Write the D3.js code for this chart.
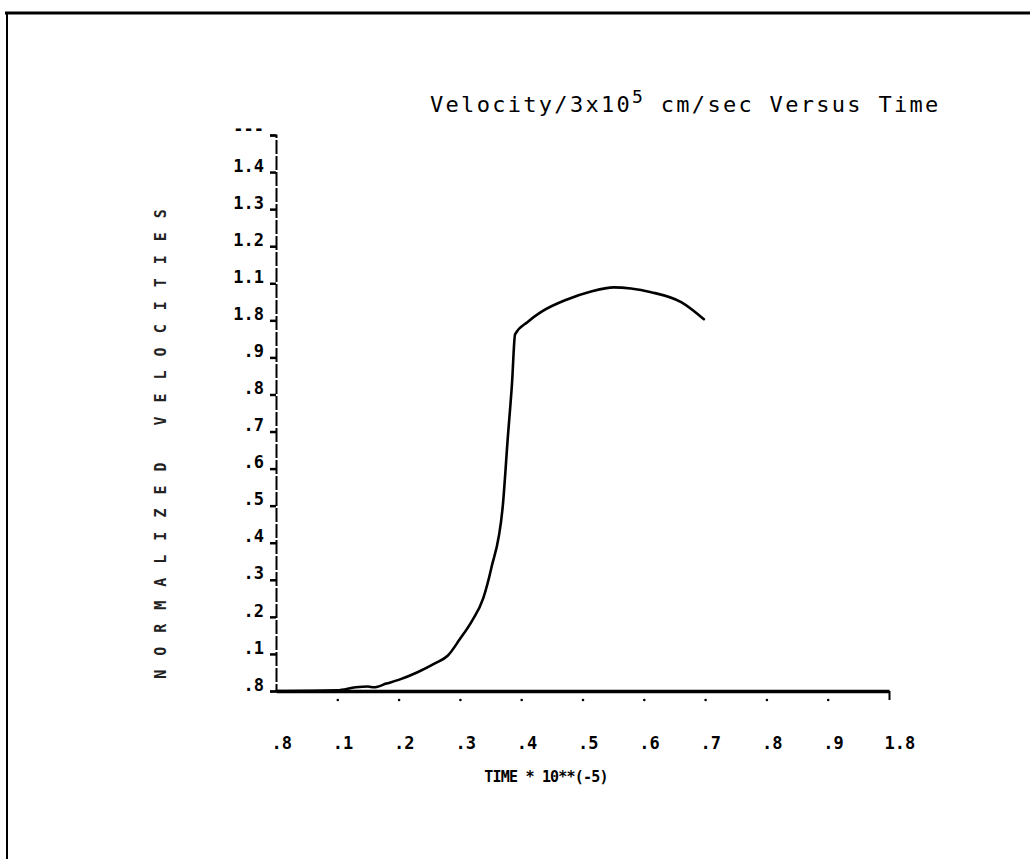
<!DOCTYPE html>
<html>
<head>
<meta charset="utf-8">
<script src="https://cdn.jsdelivr.net/npm/d3@7"></script>
<style>
html,body{margin:0;padding:0;background:#fff;}
svg{display:block;}
</style>
</head>
<body>
<svg id="chart" width="1030" height="859"></svg>
<script>
// ---- data ----
const timeValues = [0, 0.10, 0.13, 0.15, 0.16, 0.18, 0.20, 0.23, 0.26, 0.28, 0.30, 0.32, 0.338, 0.351, 0.37, 0.378, 0.385, 0.39, 0.41, 0.432, 0.476, 0.514, 0.551, 0.579, 0.612, 0.661, 0.698];
const velocityValues = [0, 0.002, 0.01, 0.012, 0.01, 0.02, 0.03, 0.05, 0.075, 0.095, 0.14, 0.19, 0.25, 0.33, 0.50, 0.68, 0.83, 0.962, 0.995, 1.022, 1.057, 1.078, 1.089, 1.086, 1.076, 1.049, 1.003];
const xTickValues = [0, 0.1, 0.2, 0.3, 0.4, 0.5, 0.6, 0.7, 0.8, 0.9, 1.0];
const xTickLabels = [".8", ".1", ".2", ".3", ".4", ".5", ".6", ".7", ".8", ".9", "1.8"];
const yTickValues = [0, 0.1, 0.2, 0.3, 0.4, 0.5, 0.6, 0.7, 0.8, 0.9, 1.0, 1.1, 1.2, 1.3, 1.4, 1.5];
const yTickLabels = [".8", ".1", ".2", ".3", ".4", ".5", ".6", ".7", ".8", ".9", "1.8", "1.1", "1.2", "1.3", "1.4", "---"];
const titleMain = "Velocity/3x10";
const titleSup = "5";
const titleRest = " cm/sec Versus Time";
const xTitle = "TIME * 10**(-5)";
const yTitle = "NORMALIZED VELOCITIES";

const svg = d3.select("#chart");
const x = d3.scaleLinear().domain([0, 1]).range([276, 889]);
const y = d3.scaleLinear().domain([0, 1.5]).range([691, 135]);
const ink = "#000";
const mono = "'DejaVu Sans Mono', monospace";

// frame
svg.append("line").attr("x1", 5).attr("x2", 1030).attr("y1", 13).attr("y2", 13)
  .attr("stroke", ink).attr("stroke-width", 3);
svg.append("line").attr("x1", 7).attr("x2", 7).attr("y1", 12).attr("y2", 859)
  .attr("stroke", ink).attr("stroke-width", 2);

// title
const t = svg.append("text").attr("x", 430).attr("y", 112)
  .attr("font-family", mono).attr("font-size", 22).attr("letter-spacing", 2.3).attr("fill", ink);
t.append("tspan").text(titleMain);
t.append("tspan").attr("dy", -9).attr("font-size", 18).text(titleSup);
t.append("tspan").attr("dy", 9).text(titleRest);

// y axis
const yAxis = d3.axisLeft(y).tickValues(yTickValues).tickSize(6)
  .tickFormat((d, i) => yTickLabels[i]);
const gy = svg.append("g").attr("transform", `translate(${x(0)},0)`).call(yAxis);
gy.select(".domain").attr("stroke", ink).attr("stroke-width", 2).attr("stroke-dasharray", "14,2");
gy.selectAll(".tick line").attr("stroke", ink).attr("stroke-width", 2.5);
gy.selectAll(".tick text").attr("font-family", mono).attr("font-weight", "bold")
  .attr("font-size", 17).attr("fill", ink).attr("x", -12).attr("dy", "-0.05em");

// x axis
const xAxis = d3.axisBottom(x).tickValues(xTickValues).tickSize(0)
  .tickFormat((d, i) => xTickLabels[i]);
const gx = svg.append("g").attr("transform", `translate(0,${y(0)})`).call(xAxis);
gx.select(".domain").attr("stroke", ink).attr("stroke-width", 3.5);
gx.selectAll(".tick text").attr("font-family", mono).attr("font-weight", "bold")
  .attr("font-size", 17).attr("fill", ink).attr("text-anchor", "start")
  .attr("x", -5).attr("y", 58).attr("dy", 0);
// tick dots under x axis
gx.selectAll(".tick").filter(d => d > 0 && d < 1).append("circle")
  .attr("cx", 0).attr("cy", 9).attr("r", 1.3).attr("fill", ink);
gx.selectAll(".tick").filter(d => d === 1).append("line")
  .attr("x1", 0).attr("x2", 0).attr("y1", 0).attr("y2", 9)
  .attr("stroke", ink).attr("stroke-width", 2);

// curve
const line = d3.line().x((d, i) => x(timeValues[i])).y(d => y(d)).curve(d3.curveMonotoneX);
svg.append("path").datum(velocityValues).attr("d", line)
  .attr("fill", "none").attr("stroke", ink).attr("stroke-width", 2.6)
  .attr("stroke-linejoin", "round").attr("stroke-linecap", "round");

// axis titles
svg.append("text").attr("x", 546).attr("y", 782).attr("text-anchor", "middle")
  .attr("font-family", mono).attr("font-weight", "bold").attr("font-size", 15)
  .attr("letter-spacing", -0.8).attr("fill", ink).text(xTitle);
svg.append("text").attr("transform", "translate(166,437) rotate(-90)").attr("text-anchor", "middle")
  .attr("font-family", mono).attr("font-weight", "bold").attr("font-size", 15)
  .attr("letter-spacing", 14).attr("fill", "#222").text(yTitle);
</script>
</body>
</html>
